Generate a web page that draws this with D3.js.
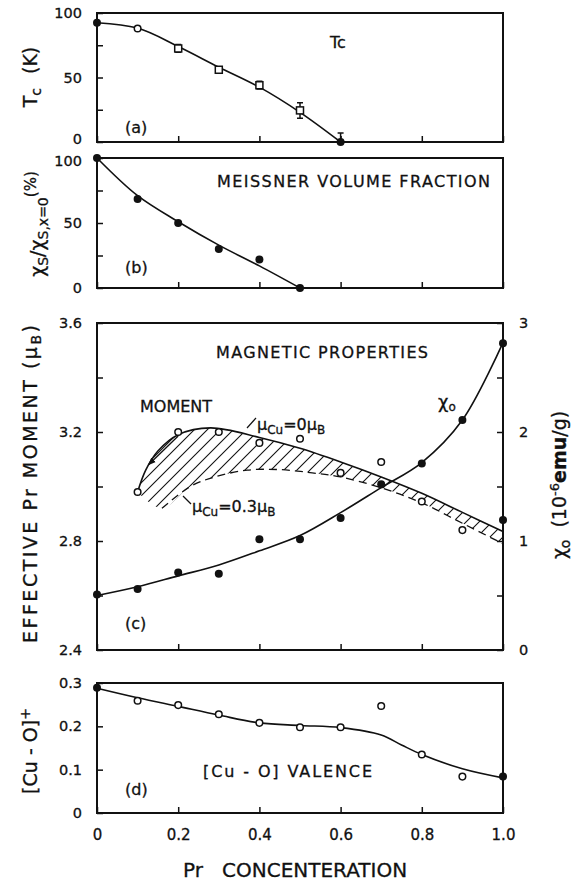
<!DOCTYPE html>
<html>
<head>
<meta charset="utf-8">
<script src="https://cdn.jsdelivr.net/npm/d3@7"></script>
<style>
  body { margin: 0; background: #fff; }
  text { font-family: "DejaVu Sans", sans-serif; fill: #111; stroke: #111; stroke-width: 0.3px; }
</style>
</head>
<body>
<svg width="575" height="884"></svg>
<script>
// ---- data ----
var tcConc = [0, 0.1, 0.2, 0.3, 0.4, 0.5, 0.6];
var tcVal = [92.5, 88, 72.5, 56, 44, 24.5, 0];
var tcErrUp = [0, 0, 3, 2, 3, 6, 7];
var tcErrDown = [0, 0, 3, 2, 3, 6, 0];
var tcMark = ['fill', 'circle', 'square', 'square', 'square', 'square', 'fill'];
var tcFitX = [0, 0.1, 0.2, 0.3, 0.4, 0.5, 0.6];
var tcFitY = [92.5, 88.3, 74, 58, 42.5, 23, 0];

var msConc = [0, 0.1, 0.2, 0.3, 0.4, 0.5];
var msVal = [100, 68.5, 50, 30, 22, 0];
var msFit = [100, 71, 51, 33, 17, 0];

var momConc = [0.1, 0.2, 0.3, 0.4, 0.5, 0.6, 0.7, 0.8, 0.9];
var momVal = [2.98, 3.2, 3.2, 3.16, 3.175, 3.05, 3.09, 2.945, 2.84];
var momEnd = [1.0, 2.877];
var fit0X = [0.1, 0.12, 0.15, 0.2, 0.28, 0.4, 0.5, 0.6, 0.7, 0.8, 0.9, 1.0];
var fit0Y = [2.98, 3.06, 3.13, 3.19, 3.215, 3.18, 3.14, 3.09, 3.035, 2.975, 2.905, 2.835];
var fit3X = [0.16, 0.23, 0.29, 0.37, 0.45, 0.53, 0.6, 0.7, 0.8, 0.9, 1.0];
var fit3Y = [2.92, 3.0, 3.035, 3.06, 3.062, 3.05, 3.035, 2.995, 2.94, 2.865, 2.79];

var conc = [0, 0.1, 0.2, 0.3, 0.4, 0.5, 0.6, 0.7, 0.8, 0.9, 1.0];
var chiVal = [0.51, 0.56, 0.71, 0.70, 1.015, 1.015, 1.21, 1.52, 1.71, 2.11, 2.815];
var chiFit = [0.5, 0.58, 0.68, 0.78, 0.91, 1.05, 1.26, 1.49, 1.72, 2.11, 2.82];

var valVal = [0.289, 0.259, 0.249, 0.228, 0.208, 0.198, 0.198, 0.247, 0.135, 0.084, 0.084];
var valFitX = [0, 0.1, 0.2, 0.3, 0.4, 0.5, 0.6, 0.7, 0.75, 0.8, 0.9, 1.0];
var valFitY = [0.288, 0.266, 0.246, 0.226, 0.208, 0.202, 0.197, 0.18, 0.157, 0.135, 0.102, 0.081];

var xTicks = [0, 0.2, 0.4, 0.6, 0.8, 1.0];
var xTickLabels = ['0', '0.2', '0.4', '0.6', '0.8', '1.0'];

// ---- layout ----
var svg = d3.select('svg');
var x = d3.scaleLinear().domain([0, 1]).range([97, 503]);
var yA = d3.scaleLinear().domain([0, 100]).range([142, 13]);
var yB = d3.scaleLinear().domain([0, 100]).range([288, 158]);
var yC = d3.scaleLinear().domain([2.4, 3.6]).range([650, 323]);
var yR = d3.scaleLinear().domain([0, 3]).range([650, 323]);
var yD = d3.scaleLinear().domain([0, 0.3]).range([813, 683]);

var smooth = d3.curveCatmullRom.alpha(0.5);

function frame(y) {
  svg.append('rect')
    .attr('x', x(0)).attr('y', y.range()[1])
    .attr('width', x(1) - x(0)).attr('height', y.range()[0] - y.range()[1])
    .attr('fill', 'none').attr('stroke', '#111').attr('stroke-width', 2);
}

function styleAxis(g) {
  g.select('.domain').remove();
  g.selectAll('line').attr('stroke', '#111').attr('stroke-width', 1.5);
  g.selectAll('text').style('font-family', '"DejaVu Sans", sans-serif').style('font-size', '14.5px').attr('fill', '#111');
}

function leftAxis(y, vals, labelled, fmt) {
  return svg.append('g')
    .attr('transform', 'translate(' + x(0) + ',0)')
    .call(d3.axisLeft(y).tickValues(vals).tickSize(-6).tickPadding(15)
      .tickFormat(d => labelled.indexOf(d) >= 0 ? fmt(d) : ''))
    .call(styleAxis);
}

function bottomAxis(y, withLabels) {
  var g = svg.append('g')
    .attr('transform', 'translate(0,' + y.range()[0] + ')')
    .call(d3.axisBottom(x).tickValues(xTicks).tickSize(-6).tickPadding(16)
      .tickFormat((d, i) => withLabels ? xTickLabels[i] : ''))
    .call(styleAxis);
  g.selectAll('text').style('font-size', '15px');
}

function line(xs, ys, y) {
  return d3.line().x((d, i) => x(xs[i])).y((d, i) => y(ys[i])).curve(smooth)(xs);
}

function dots(xs, ys, y, kinds) {
  xs.forEach(function (v, i) {
    var k = kinds[i];
    var cx = x(v), cy = y(ys[i]);
    if (k === 'square') {
      svg.append('rect').attr('x', cx - 3.5).attr('y', cy - 3.5).attr('width', 7).attr('height', 7)
        .attr('fill', '#fff').attr('stroke', '#111').attr('stroke-width', 1.5);
    } else if (k === 'circle') {
      svg.append('circle').attr('cx', cx).attr('cy', cy).attr('r', 3.3)
        .attr('fill', '#fff').attr('stroke', '#111').attr('stroke-width', 1.5);
    } else {
      svg.append('circle').attr('cx', cx).attr('cy', cy).attr('r', 4).attr('fill', '#111');
    }
  });
}

function label(txt, px, py, size, len) {
  var t = svg.append('text').attr('x', px).attr('y', py).style('font-size', size + 'px').text(txt);
  if (len) t.attr('textLength', len).attr('lengthAdjust', 'spacing');
  return t;
}

// ---- panel (a): Tc ----
frame(yA);
var axA = leftAxis(yA, [0, 25, 50, 75, 100], [0, 50, 100], d => d);
// the "0" of (a) sits just above the "100" of (b); lift it a touch
axA.selectAll('.tick').filter(d => d === 0).select('text').attr('dy', '0.1em');
bottomAxis(yA, false);
svg.append('path').attr('d', line(tcFitX, tcFitY, yA)).attr('fill', 'none').attr('stroke', '#111').attr('stroke-width', 1.6);
tcConc.forEach(function (v, i) {
  if (!tcErrUp[i] && !tcErrDown[i]) return;
  var top = yA(tcVal[i] + tcErrUp[i]), bot = yA(tcVal[i] - tcErrDown[i]);
  svg.append('path')
    .attr('d', 'M' + x(v) + ',' + bot + 'V' + top + 'M' + (x(v) - 3) + ',' + top + 'H' + (x(v) + 3) +
      (tcErrDown[i] ? 'M' + (x(v) - 3) + ',' + bot + 'H' + (x(v) + 3) : ''))
    .attr('stroke', '#111').attr('stroke-width', 1.5).attr('fill', 'none');
});
dots(tcConc, tcVal, yA, tcMark);
label('Tc', 330, 48, 16);
label('(a)', 125, 133, 16);

// ---- panel (b): Meissner fraction ----
frame(yB);
var axB = leftAxis(yB, [0, 25, 50, 75, 100], [0, 50, 100], d => d);
axB.selectAll('.tick').filter(d => d === 100).select('text').attr('dy', '0.5em');
bottomAxis(yB, false);
svg.append('path').attr('d', line(msConc, msFit, yB)).attr('fill', 'none').attr('stroke', '#111').attr('stroke-width', 1.6);
dots(msConc, msVal, yB, msConc.map(() => 'fill'));
label('MEISSNER  VOLUME  FRACTION', 217, 187, 16, 273);
label('(b)', 125, 273, 16);

// ---- panel (c): magnetic properties ----
var defs = svg.append('defs');
defs.append('pattern').attr('id', 'hatch').attr('patternUnits', 'userSpaceOnUse')
  .attr('width', 13).attr('height', 13)
  .append('path').attr('d', 'M-2,2 L2,-2 M0,13 L13,0 M11,15 L15,11')
  .attr('stroke', '#111').attr('stroke-width', 1.1);

// region between the two moment curves
var upper = fit0X.map((v, i) => [x(v), yC(fit0Y[i])]);
var lower = [[x(fit0X[0]), yC(fit0Y[0])]].concat(fit3X.map((v, i) => [x(v), yC(fit3Y[i])]));
var upPath = d3.line().curve(smooth)(upper);
var lowPath = d3.line().curve(smooth)(lower.slice().reverse());
svg.append('path')
  .attr('d', upPath + 'L' + lowPath.slice(1) + 'Z')
  .attr('fill', 'url(#hatch)').attr('stroke', 'none');

frame(yC);
leftAxis(yC, [2.4, 2.6, 2.8, 3.0, 3.2, 3.4, 3.6], [2.4, 2.8, 3.2, 3.6], d => d.toFixed(1));
bottomAxis(yC, false);
svg.append('g')
  .attr('transform', 'translate(' + x(1) + ',0)')
  .call(d3.axisRight(yR).tickValues([0, 0.5, 1, 1.5, 2, 2.5, 3]).tickSize(-6).tickPadding(16)
    .tickFormat(d => Number.isInteger(d) ? d : ''))
  .call(styleAxis);

svg.append('path').attr('d', line(fit0X, fit0Y, yC)).attr('fill', 'none').attr('stroke', '#111').attr('stroke-width', 1.6);
svg.append('path').attr('d', line(fit3X, fit3Y, yC)).attr('fill', 'none').attr('stroke', '#111')
  .attr('stroke-width', 1.3).attr('stroke-dasharray', '8,5');
svg.append('path').attr('d', line(conc, chiFit, yR)).attr('fill', 'none').attr('stroke', '#111').attr('stroke-width', 1.6);

dots(momConc, momVal, yC, momConc.map(() => 'circle'));
dots([momEnd[0]], [momEnd[1]], yC, ['fill']);
dots(conc, chiVal, yR, conc.map(() => 'fill'));

// arrow and leaders
defs.append('marker').attr('id', 'arr').attr('viewBox', '0 0 10 10').attr('refX', 9).attr('refY', 5)
  .attr('markerWidth', 6).attr('markerHeight', 6).attr('orient', 'auto')
  .append('path').attr('d', 'M0,1 L10,5 L0,9 Z').attr('fill', '#111');
svg.append('line').attr('x1', x(0.2)).attr('y1', yC(3.185)).attr('x2', x(0.127)).attr('y2', yC(3.08))
  .attr('stroke', '#111').attr('stroke-width', 1.3).attr('marker-end', 'url(#arr)');
svg.append('line').attr('x1', 247).attr('y1', 428).attr('x2', 256).attr('y2', 418).attr('stroke', '#111').attr('stroke-width', 1.2);
svg.append('line').attr('x1', 191).attr('y1', 504).attr('x2', 183).attr('y2', 496).attr('stroke', '#111').attr('stroke-width', 1.2);

label('MAGNETIC  PROPERTIES', 216, 358, 16, 212);
label('MOMENT', 140, 412, 16, 72);
label('(c)', 125, 629, 16);
var mu0 = svg.append('text').attr('x', 257).attr('y', 430).style('font-size', '16px');
mu0.append('tspan').text('μ');
mu0.append('tspan').attr('dy', 4).style('font-size', '12px').text('Cu');
mu0.append('tspan').attr('dy', -4).text('=0μ');
mu0.append('tspan').attr('dy', 4).style('font-size', '12px').text('B');
var mu3 = svg.append('text').attr('x', 192).attr('y', 512).style('font-size', '16px');
mu3.append('tspan').text('μ');
mu3.append('tspan').attr('dy', 4).style('font-size', '12px').text('Cu');
mu3.append('tspan').attr('dy', -4).text('=0.3μ');
mu3.append('tspan').attr('dy', 4).style('font-size', '12px').text('B');
var chiLab = svg.append('text').attr('x', 438).attr('y', 408).style('font-size', '18px');
chiLab.append('tspan').text('χ');
chiLab.append('tspan').attr('dy', 3).style('font-size', '12px').text('o');

// ---- panel (d): valence ----
frame(yD);
leftAxis(yD, [0, 0.1, 0.2, 0.3], [0, 0.1, 0.2, 0.3], d => d === 0 ? '0' : d.toFixed(1));
bottomAxis(yD, true);
svg.append('path').attr('d', line(valFitX, valFitY, yD)).attr('fill', 'none').attr('stroke', '#111').attr('stroke-width', 1.6);
dots(conc, valVal, yD, conc.map((d, i) => (i === 0 || i === conc.length - 1) ? 'fill' : 'circle'));
label('[Cu - O]  VALENCE', 203, 777, 16, 169);
label('(d)', 125, 795, 16);

// ---- axis titles ----
var xt = svg.append('text').attr('x', 183).attr('y', 877).style('font-size', '20px');
xt.append('tspan').text('Pr');
xt.append('tspan').attr('x', 222).text('CONCENTERATION');

function vtitle(px, py) {
  return svg.append('text').attr('transform', 'translate(' + px + ',' + py + ') rotate(-90)')
    .attr('text-anchor', 'middle').style('font-size', '19px');
}
var ta = vtitle(37, 77);
ta.append('tspan').text('T');
ta.append('tspan').attr('dy', 4).style('font-size', '14px').text('c');
ta.append('tspan').attr('dy', -4).attr('dx', 14).text('(K)');

var tb = vtitle(44, 224);
tb.append('tspan').text('χ');
tb.append('tspan').attr('dy', 4).style('font-size', '14px').text('S');
tb.append('tspan').attr('dy', -4).text('/χ');
tb.append('tspan').attr('dy', 4).style('font-size', '14px').text('S,x=0');
tb.append('tspan').attr('dy', -12).style('font-size', '15px').text('(%)');

var tc = vtitle(37, 484).attr('textLength', 318).attr('lengthAdjust', 'spacing');
tc.append('tspan').text('EFFECTIVE  Pr  MOMENT  (μ');
tc.append('tspan').attr('dy', 4).style('font-size', '14px').text('B');
tc.append('tspan').attr('dy', -4).text(')');

var tr = vtitle(566, 485);
tr.append('tspan').text('χ');
tr.append('tspan').attr('dy', 4).style('font-size', '14px').text('o');
tr.append('tspan').attr('dy', -4).attr('dx', 12).text('(10');
tr.append('tspan').attr('dy', -7).style('font-size', '13px').text('-6');
tr.append('tspan').attr('dy', 7).style('font-weight', 'bold').text('emu');
tr.append('tspan').text('/g)');

var td = vtitle(37, 751);
td.append('tspan').text('[Cu - O]');
td.append('tspan').attr('dy', -7).style('font-size', '14px').text('+');
</script>
</body>
</html>
